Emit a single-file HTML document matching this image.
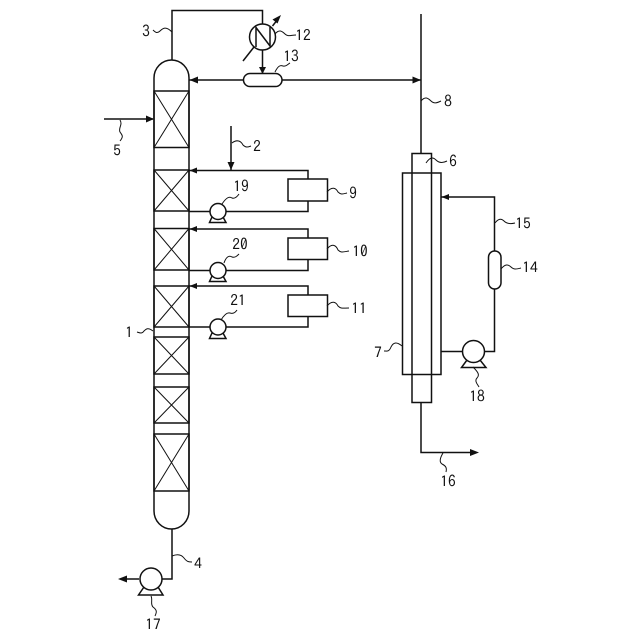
<!DOCTYPE html>
<html><head><meta charset="utf-8"><style>
html,body{margin:0;padding:0;background:#fff}
svg{display:block}
text{font-family:"IPAGothic","Liberation Sans",sans-serif;font-size:15.5px;fill:#111;text-anchor:middle}
.l{fill:none;stroke:#111;stroke-width:1.5}
.x{fill:none;stroke:#111;stroke-width:1}
.s{fill:none;stroke:#111;stroke-width:1}
.a{fill:#111;stroke:none}
.w{fill:#fff;stroke:#111;stroke-width:1.5}
</style></head><body>
<svg width="640" height="640" viewBox="0 0 640 640" xmlns="http://www.w3.org/2000/svg">
<!-- column -->
<path class="l" d="M154 78A17.5 18 0 0 1 189 78V511A17.5 18 0 0 1 154 511Z"/>
<path class="l" d="M154 91H189V147.500H154Z"/><path class="x" d="M154 91L189 147.500M189 91L154 147.500"/>
<path class="l" d="M154 170H189V211H154Z"/><path class="x" d="M154 170L189 211M189 170L154 211"/>
<path class="l" d="M154 228.500H189V270H154Z"/><path class="x" d="M154 228.500L189 270M189 228.500L154 270"/>
<path class="l" d="M154 286H189V327H154Z"/><path class="x" d="M154 286L189 327M189 286L154 327"/>
<path class="l" d="M154 337H189V374H154Z"/><path class="x" d="M154 337L189 374M189 337L154 374"/>
<path class="l" d="M154 387H189V423H154Z"/><path class="x" d="M154 387L189 423M189 387L154 423"/>
<path class="l" d="M154 434H189V491H154Z"/><path class="x" d="M154 434L189 491M189 434L154 491"/>
<!-- overhead -->
<path class="l" d="M172 60V10.500H262.500V24M262.500 50V74"/>
<circle class="w" cx="262.500" cy="37" r="13"/>
<path class="l" d="M256 47V27.500L270 46V27"/>
<path class="l" d="M243 61L254 47M272.500 26L278 19"/>
<path class="a" d="M281 15L272.500 19.500L277.500 23.500Z"/>
<path class="a" d="M262.500 74L259 67H266Z"/>
<path class="l" d="M189 80H421"/>
<path class="a" d="M189.500 80L198 76.500V83.500Z"/>
<path class="a" d="M421 80L412.500 76.500V83.500Z"/>
<rect class="w" x="243.500" y="73.500" width="38.500" height="13" rx="6.500"/>
<!-- feeds -->
<path class="l" d="M104 119H153"/><path class="a" d="M154 119L146 115.500V122.500Z"/>
<path class="l" d="M231 126V170"/><path class="a" d="M231 170L227.500 162H234.500Z"/>
<!-- side loops -->
<path class="l" d="M189 170.500H308V179M308 201V211.500H189"/>
<path class="l" d="M189 229H308V238M308 259V270.500H189"/>
<path class="l" d="M189 286H308V295M308 316V327H189"/>
<path class="a" d="M189.500 170.500L197 167.500V173.500Z"/>
<path class="a" d="M189.500 229L197 226V232Z"/>
<path class="a" d="M189.500 286L197 283V289Z"/>
<rect class="w" x="288" y="179" width="39.500" height="22"/>
<rect class="w" x="288" y="238" width="39.500" height="21.500"/>
<rect class="w" x="288" y="295" width="39.500" height="21.500"/>
<!-- small pumps -->
<path class="w" d="M212 217L209.500 222.500H226L223 217Z"/><circle class="w" cx="218" cy="211.500" r="8"/>
<path class="w" d="M212 276L209.500 281.500H226L223 276Z"/><circle class="w" cx="218" cy="270.500" r="8"/>
<path class="w" d="M212 333L209.500 338.500H226L223 333Z"/><circle class="w" cx="218" cy="327" r="8"/>
<!-- bottom -->
<path class="l" d="M172 529V579H162M139 579H124"/>
<path class="a" d="M118 579L127 575.500V582.500Z"/>
<path class="w" d="M144 587L138.500 595H163L158 587Z"/><circle class="w" cx="151" cy="579" r="11"/>
<!-- membrane unit -->
<path class="l" d="M421 14V153.500"/>
<rect class="l" x="412" y="153.500" width="19.500" height="249"/>
<rect class="l" x="402.500" y="173" width="38.500" height="201.500"/>
<path class="l" d="M421 402.500V452.500H470"/><path class="a" d="M479 452.500L470 449V456Z"/>
<path class="l" d="M441 197H494.500V251M494.500 289V351.500H484M462.500 351.500H441"/>
<path class="a" d="M441.500 197L449 194V200Z"/>
<rect class="w" x="488.500" y="251" width="12.500" height="38" rx="6.200"/>
<path class="w" d="M467 360L461.500 367.500H486L480 360Z"/><circle class="w" cx="473.500" cy="351.500" r="11"/>
<!-- leader squiggles -->
<path class="s" d="M172 32C166 26 163 28 160 31C157 34 155 32 153 30"/>
<path class="s" d="M275 34C279 29 282 31 285 34C288 37 291 35 296 35"/>
<path class="s" d="M275 72C278 66 280 65 283 66C286 67 288 64 290 63"/>
<path class="s" d="M120 120C123 125 118 128 120 132C122 135 124 136 120 141"/>
<path class="s" d="M232 143C237 139 241 141 243 145C246 148 248 147 251 146"/>
<path class="s" d="M222 204C226 198 229 196 232 198C235 199 237 197 239 194"/>
<path class="s" d="M327 192C332 186 336 188 338 192C341 195 343 194 347 193"/>
<path class="s" d="M224 263C226 257 229 255 232 257C235 258 237 256 239 254"/>
<path class="s" d="M327 249C332 243 336 245 338 250C341 253 343 252 349 251"/>
<path class="s" d="M221 320C224 315 227 312 230 313C233 314 235 313 237 310"/>
<path class="s" d="M327 306C332 300 336 302 338 306C341 309 343 308 349 308"/>
<path class="s" d="M153 331C148 327 146 329 144 331C142 334 140 333 137 332"/>
<path class="s" d="M421 101C425 96 428 98 431 101C434 104 437 103 441 101"/>
<path class="s" d="M426 163C430 157 433 157 436 160C439 163 443 163 447 161"/>
<path class="s" d="M495 223C498 219 501 218 504 221C507 224 511 224 515 223"/>
<path class="s" d="M501 269C505 264 508 264 511 267C514 270 517 269 521 268"/>
<path class="s" d="M402 346C396 341 393 343 391 347C389 352 387 351 384 351"/>
<path class="s" d="M473 367C478 372 480 375 477 378C474 381 478 385 479 387"/>
<path class="s" d="M443 453C440 458 439 462 442 464C446 466 447 468 446 472"/>
<path class="s" d="M172 556C177 554 181 554 184 558C187 562 189 562 192 562"/>
<path class="s" d="M151 596C153 600 150 604 153 607C157 610 157 612 155 616"/>
<!-- labels -->
<text x="146" y="37">3</text>
<text x="303" y="41">12</text>
<text x="291" y="62">13</text>
<text x="117" y="156">5</text>
<text x="257" y="152">2</text>
<text x="241" y="192">19</text>
<text x="353" y="199">9</text>
<text x="240" y="250">20</text>
<text x="360" y="257">10</text>
<text x="238" y="306">21</text>
<text x="359" y="314">11</text>
<text x="129" y="338">1</text>
<text x="448" y="107">8</text>
<text x="453" y="167">6</text>
<text x="523" y="229">15</text>
<text x="530" y="273">14</text>
<text x="378" y="358">7</text>
<text x="477" y="402">18</text>
<text x="448" y="487">16</text>
<text x="198" y="569">4</text>
<text x="153" y="630">17</text>
</svg>
</body></html>
